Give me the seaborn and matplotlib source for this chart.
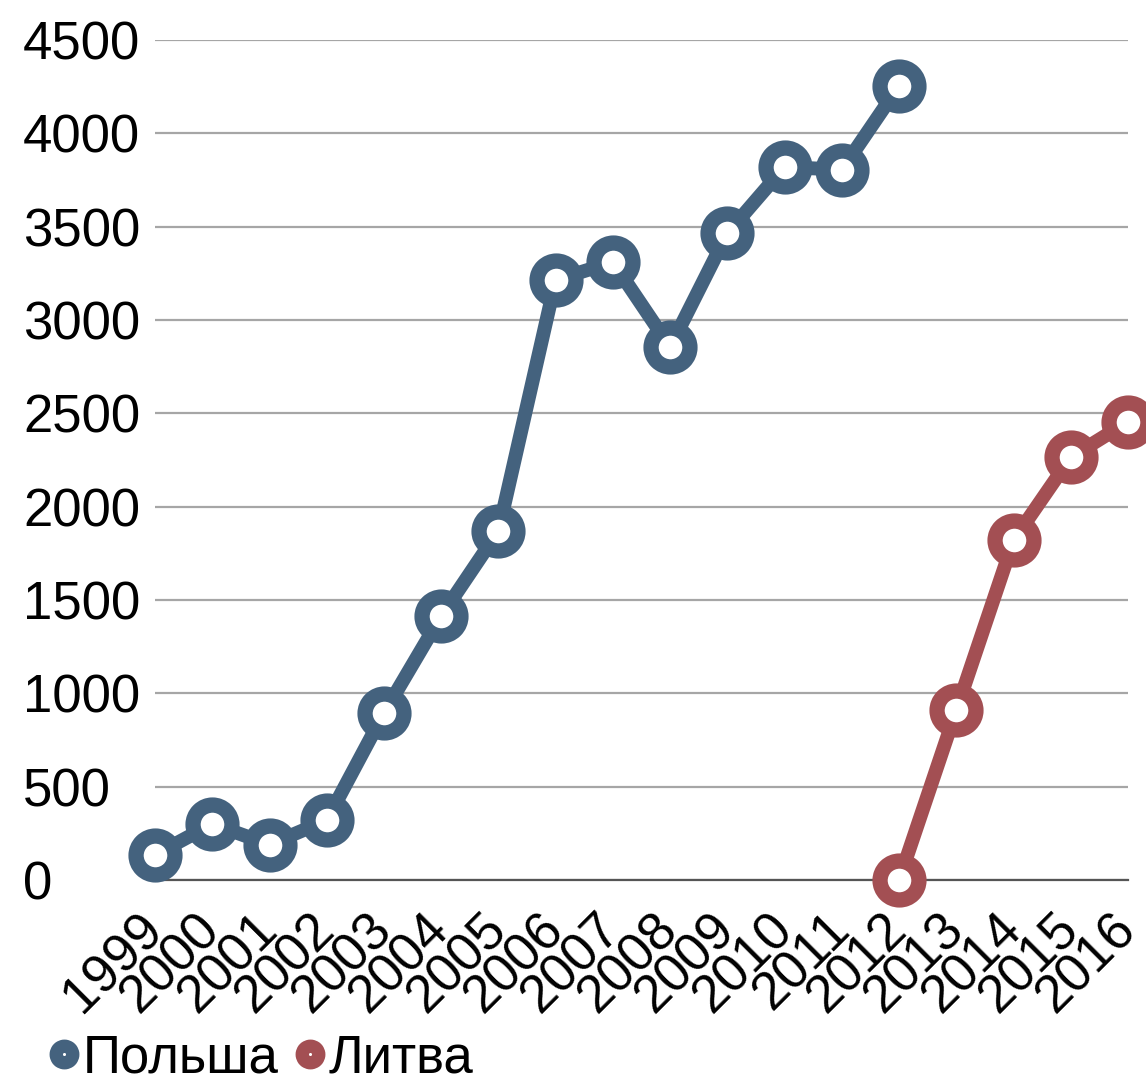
import matplotlib
matplotlib.use("Agg")
import matplotlib.pyplot as plt
from matplotlib.lines import Line2D
import pandas as pd
import seaborn as sns

years = list(range(1999, 2017))
poland_years = list(range(1999, 2013))
poland_values = [135, 300, 190, 320, 895, 1415, 1870, 3215, 3310, 2855, 3465, 3820, 3805, 4255]
lithuania_years = [2012, 2013, 2014, 2015, 2016]
lithuania_values = [0, 910, 1820, 2265, 2455]
y_ticks = [0, 500, 1000, 1500, 2000, 2500, 3000, 3500, 4000, 4500]

series = [
    ("Польша", poland_years, poland_values, "#44627e"),
    ("Литва", lithuania_years, lithuania_values, "#a34f53"),
]

sns.set_style("white")
plt.rcParams["font.family"] = ["Liberation Sans", "DejaVu Sans"]
plt.rcParams["text.color"] = "black"
plt.rcParams["xtick.color"] = "black"
plt.rcParams["ytick.color"] = "black"

fig = plt.figure(figsize=(11.46, 10.82), dpi=100)
ax = fig.add_axes([0.1353, 0.1867, 0.849, 0.7763])

for name, xs, vals, color in series:
    df = pd.DataFrame({"year": xs, "value": vals})
    sns.lineplot(data=df, x="year", y="value", ax=ax, color=color, lw=10,
                 marker="o", markersize=28, markeredgewidth=11,
                 markerfacecolor="white", markeredgecolor=color,
                 clip_on=False, zorder=3)

ax.set_xlim(1999, 2016)
ax.set_ylim(0, 4500)
ax.set_yticks(y_ticks)
ax.set_yticklabels([str(v) for v in y_ticks], fontsize=38, ha="left")
ax.set_xticks(years)
ax.set_xticklabels([str(y) for y in years], fontsize=38, rotation=45,
                   ha="right", va="center", rotation_mode="anchor")
# labels in the original are left-aligned near the figure edge
ax.tick_params(axis="y", length=0, pad=95)
ax.tick_params(axis="x", length=0, pad=30)
ax.set_xlabel("")
ax.set_ylabel("")
ax.yaxis.grid(True, color="#a6a6a6", lw=1.6)
ax.xaxis.grid(False)
for s in ["top", "right", "left"]:
    ax.spines[s].set_visible(False)
ax.spines["bottom"].set_color("#555555")
ax.spines["bottom"].set_linewidth(1.6)

handles = [Line2D([], [], ls="none", marker="o", color=c, markersize=12,
                  markeredgewidth=9.5, markerfacecolor="white", markeredgecolor=c)
           for _, _, _, c in series]
fig.legend(handles, [s[0] for s in series], loc="lower left",
           bbox_to_anchor=(0.003, -0.045), ncol=2, frameon=False, fontsize=38,
           handlelength=0.5, handletextpad=0.1, columnspacing=0.35)

fig.savefig("out.png", dpi=100)
